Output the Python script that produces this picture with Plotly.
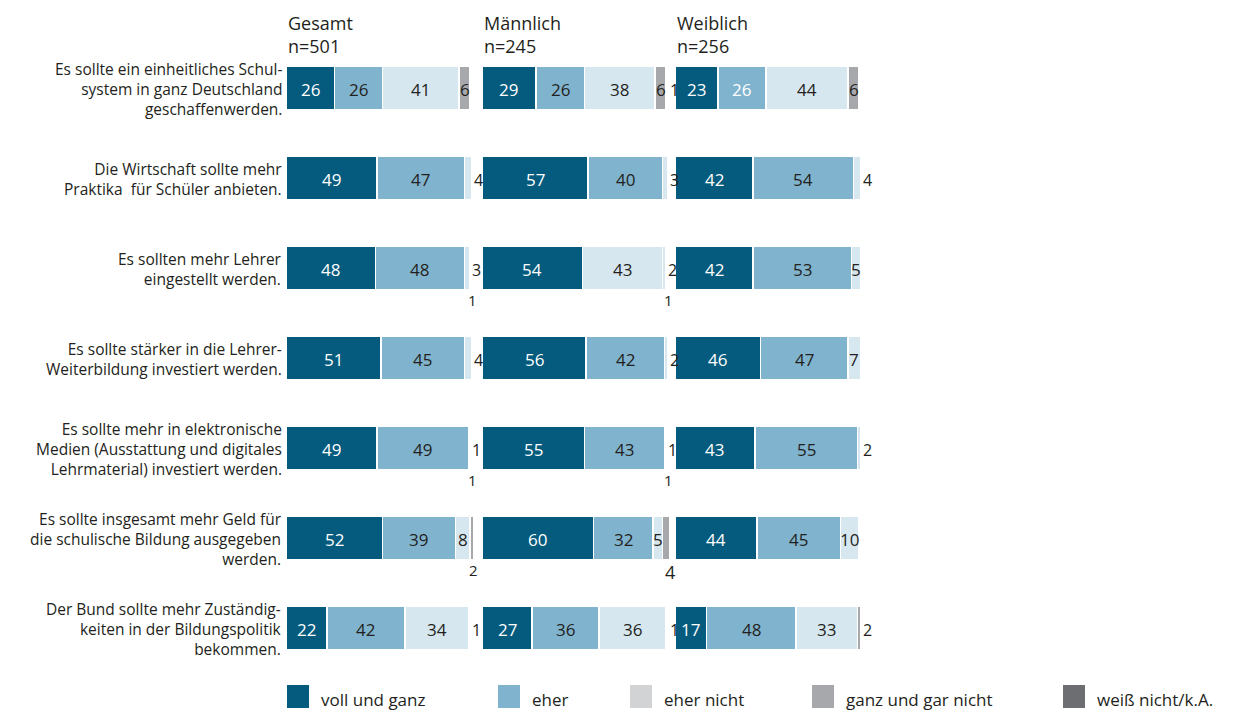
import plotly.graph_objects as go

W, H = 1237, 712

statements = [
    "Es sollte ein einheitliches Schul-<br>system in ganz Deutschland<br>geschaffenwerden.",
    "Die Wirtschaft sollte mehr<br>Praktika  für Schüler anbieten.",
    "Es sollten mehr Lehrer<br>eingestellt werden.",
    "Es sollte stärker in die Lehrer-<br>Weiterbildung investiert werden.",
    "Es sollte mehr in elektronische<br>Medien (Ausstattung und digitales<br>Lehrmaterial) investiert werden.",
    "Es sollte insgesamt mehr Geld für<br>die schulische Bildung ausgegeben<br>werden.",
    "Der Bund sollte mehr Zuständig-<br>keiten in der Bildungspolitik<br>bekommen.",
]
groups = ["Gesamt", "Männlich", "Weiblich"]
group_n = ["n=501", "n=245", "n=256"]
categories = ["voll und ganz", "eher", "eher nicht", "ganz und gar nicht", "weiß nicht/k.A."]

# Gesamt
gesamt_voll = [26, 49, 48, 51, 49, 52, 22]
gesamt_eher = [26, 47, 48, 45, 49, 39, 42]
gesamt_eher_nicht = [41, 4, 3, 4, 1, 8, 34]
gesamt_gar_nicht = [6, 0, 1, 0, 1, 2, 1]
gesamt_weiss_nicht = [0, 0, 0, 0, 0, 0, 0]

# Männlich
maennlich_voll = [29, 57, 54, 56, 55, 60, 27]
maennlich_eher = [26, 40, 43, 42, 43, 32, 36]
maennlich_eher_nicht = [38, 3, 2, 2, 1, 5, 36]
maennlich_gar_nicht = [6, 0, 1, 0, 1, 4, 1]
maennlich_weiss_nicht = [1, 0, 0, 0, 0, 0, 0]

# Weiblich
weiblich_voll = [23, 42, 42, 46, 43, 44, 17]
weiblich_eher = [26, 54, 53, 47, 55, 45, 48]
weiblich_eher_nicht = [44, 4, 5, 7, 2, 10, 33]
weiblich_gar_nicht = [6, 0, 0, 0, 0, 0, 2]
weiblich_weiss_nicht = [0, 0, 0, 0, 0, 0, 0]

data = [
    [gesamt_voll, gesamt_eher, gesamt_eher_nicht, gesamt_gar_nicht, gesamt_weiss_nicht],
    [maennlich_voll, maennlich_eher, maennlich_eher_nicht, maennlich_gar_nicht, maennlich_weiss_nicht],
    [weiblich_voll, weiblich_eher, weiblich_eher_nicht, weiblich_gar_nicht, weiblich_weiss_nicht],
]

# bar fills and legend swatches
BAR_COLORS = ["#045b7e", "#80b3cd", "#d7e7f0", "#a6a8ab", "#6d6e71"]
LEGEND_COLORS = ["#045b7e", "#80b3cd", "#d2d3d5", "#a6a8ab", "#6d6e71"]
TEXT = "#231f20"
FONT = "Open Sans"


def px(x):
    return x / W


def py(y):
    return 1 - y / H


XMAX = 102
PX_PER_PCT = 1.86
starts = [286, 482, 675]
rows = list(range(len(statements)))
BAR_W = 0.48

fig = go.Figure()
axis_names = ["x", "x2", "x3"]

for g, gdata in enumerate(data):
    for c, vals in enumerate(gdata):
        colors = [BAR_COLORS[c]] * len(vals)
        # the Männlich "eher" bar of the teacher statement is printed in the lighter tone
        if g == 1 and c == 1:
            colors[2] = BAR_COLORS[2]
        fig.add_trace(go.Bar(
            x=vals, y=rows, orientation="h", width=BAR_W,
            marker=dict(color=colors, line=dict(color="white", width=1.5)),
            xaxis=axis_names[g], yaxis="y", showlegend=False,
            hoverinfo="skip", name=categories[c],
        ))

# value labels
annotations = []
for g, gdata in enumerate(data):
    xref = axis_names[g]
    for r in rows:
        cum = 0
        prev = None
        for c in range(5):
            v = gdata[c][r]
            if v <= 0:
                continue
            start, end = cum, cum + v
            cum = end
            color = "white" if c == 0 else TEXT
            if g == 2 and r == 0 and c == 1:
                color = "white"
            if v >= 5:
                annotations.append(dict(
                    x=(start + end) / 2, y=r, xref=xref, yref="y", text=str(v),
                    showarrow=False, font=dict(family=FONT, size=17, color=color),
                    xanchor="center", yanchor="middle", yshift=-1))
            elif c == 3 and prev is not None and prev < 10:
                annotations.append(dict(
                    x=end, y=r + BAR_W / 2, xref=xref, yref="y", text=str(v),
                    showarrow=False,
                    font=dict(family=FONT, size=18 if v >= 4 else 15, color=TEXT),
                    xanchor="center", yanchor="top", yshift=2))
            else:
                annotations.append(dict(
                    x=end, y=r, xref=xref, yref="y", text=str(v),
                    showarrow=False, font=dict(family=FONT, size=16, color=TEXT),
                    xanchor="left", yanchor="middle", xshift=0, yshift=-2))
            prev = v

# statement labels
for r, s in enumerate(statements):
    annotations.append(dict(
        x=px(284), y=r, xref="paper", yref="y", text=s, showarrow=False,
        xanchor="right", yanchor="middle", align="right", yshift=-1,
        font=dict(family=FONT, size=15.5, color=TEXT)))

# group headers
for g in range(3):
    annotations.append(dict(
        x=px(starts[g]), y=py(23), xref="paper", yref="paper", text=groups[g],
        showarrow=False, xanchor="left", yanchor="middle",
        font=dict(family=FONT, size=18, color=TEXT)))
    annotations.append(dict(
        x=px(starts[g]), y=py(46), xref="paper", yref="paper", text=group_n[g],
        showarrow=False, xanchor="left", yanchor="middle",
        font=dict(family=FONT, size=18, color=TEXT)))

# legend
shapes = []
legend_x = [287, 498, 630, 812, 1063]
for i, name in enumerate(categories):
    x0 = legend_x[i]
    shapes.append(dict(type="rect", xref="paper", yref="paper",
                       x0=px(x0), x1=px(x0 + 22), y0=py(708), y1=py(685),
                       fillcolor=LEGEND_COLORS[i], line=dict(width=0)))
    annotations.append(dict(
        x=px(x0 + 32), y=py(699), xref="paper", yref="paper", text=name,
        showarrow=False, xanchor="left", yanchor="middle",
        font=dict(family=FONT, size=17, color=TEXT)))

layout = dict(
    width=W, height=H, margin=dict(l=0, r=0, t=0, b=0),
    paper_bgcolor="white", plot_bgcolor="white",
    barmode="stack", showlegend=False,
    annotations=annotations, shapes=shapes,
    yaxis=dict(range=[6.5, -0.5], domain=[py(673), py(43)], visible=False,
               fixedrange=True),
)
for g in range(3):
    key = "xaxis" if g == 0 else f"xaxis{g + 1}"
    x0 = starts[g]
    layout[key] = dict(range=[0, XMAX],
                       domain=[px(x0), px(x0 + PX_PER_PCT * XMAX)],
                       anchor="y", visible=False, fixedrange=True)

fig.update_layout(**layout)
fig.write_html("out.html")
